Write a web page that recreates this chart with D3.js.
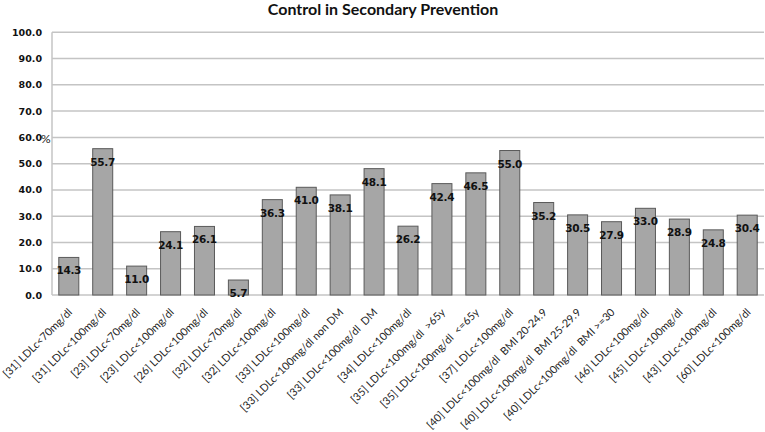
<!DOCTYPE html>
<html><head><meta charset="utf-8">
<script src="https://cdn.jsdelivr.net/npm/d3@7"></script>
<style>body{margin:0;background:#fff}svg{display:block}text{white-space:pre}</style>
</head><body>
<svg id="c" width="765" height="432"></svg>
<script>
const categories = [
 "[31] LDLc<70mg/dl","[31] LDLc<100mg/dl","[23] LDLc<70mg/dl","[23] LDLc<100mg/dl",
 "[26] LDLc<100mg/dl","[32] LDLc<70mg/dl","[32] LDLc<100mg/dl","[33] LDLc<100mg/dl",
 "[33] LDLc<100mg/dl non DM","[33] LDLc<100mg/dl  DM","[34] LDLc<100mg/dl",
 "[35] LDLc<100mg/dl  >65y","[35] LDLc<100mg/dl  <=65y","[37] LDLc<100mg/dl",
 "[40] LDLc<100mg/dl  BMI 20-24.9","[40] LDLc<100mg/dl  BMI 25-29.9","[40] LDLc<100mg/dl  BMI >=30",
 "[46] LDLc<100mg/dl","[45] LDLc<100mg/dl","[43] LDLc<100mg/dl","[60] LDLc<100mg/dl"];
const values = [14.3,55.7,11.0,24.1,26.1,5.7,36.3,41.0,38.1,48.1,26.2,42.4,46.5,55.0,35.2,30.5,27.9,33.0,28.9,24.8,30.4];
const yTicks = [0,10,20,30,40,50,60,70,80,90,100];
const title = "Control in Secondary Prevention";
const yTitle = "%";

const svg = d3.select("#c");
const m = {l:52, r:764, t:32.3, b:295};
const x = d3.scaleBand().domain(categories).range([m.l, m.r]).paddingInner(0.41).paddingOuter(0.2);
const y = d3.scaleLinear().domain([0,100]).range([m.b, m.t]);

// gridlines
svg.append("g").selectAll("line").data(yTicks).join("line")
  .attr("x1", m.l).attr("x2", m.r).attr("y1", d=>y(d)).attr("y2", d=>y(d))
  .attr("stroke", "#c4c4c4").attr("stroke-width", 1.5);
svg.append("line").attr("x1", m.l).attr("x2", m.l).attr("y1", y(100)).attr("y2", y(0))
  .attr("stroke", "#c4c4c4").attr("stroke-width", 1.5);

// y axis labels
const yAxis = d3.axisLeft(y).tickValues(yTicks).tickFormat(d3.format(".1f")).tickSize(0).tickPadding(10);
const ga = svg.append("g").attr("transform", `translate(${m.l},0)`).call(yAxis);
ga.select(".domain").remove();
ga.selectAll("text").attr("font-family","DejaVu Sans").attr("font-weight","bold").attr("font-size",9.5).attr("fill","#111");

svg.append("text").attr("x", 41).attr("y", y(60)+6).attr("font-family","Lato").attr("font-size",12).attr("fill","#222").text(yTitle);

// bars
svg.append("g").selectAll("rect").data(values).join("rect")
  .attr("x", (d,i)=>x(categories[i])).attr("width", x.bandwidth())
  .attr("y", d=>y(d)).attr("height", d=>y(0)-y(d))
  .attr("fill", "#a6a6a6").attr("stroke", "#5a5a5a").attr("stroke-width", 1);

// value labels
svg.append("g").selectAll("text").data(values).join("text")
  .attr("x", (d,i)=>x(categories[i])+x.bandwidth()/2).attr("y", d=>y(d)+17)
  .attr("text-anchor","middle").attr("font-family","DejaVu Sans").attr("font-weight","bold")
  .attr("font-size",10.5).attr("letter-spacing","-0.3").attr("fill","#111")
  .text(d=>d3.format(".1f")(d));

// x labels
const xAxis = d3.axisBottom(x).tickSize(0).tickPadding(0);
const gx = svg.append("g").attr("transform", `translate(0,${m.b})`).call(xAxis);
gx.select(".domain").remove();
gx.selectAll("text")
  .attr("font-family","Lato").attr("font-size",10.8).attr("fill","#222")
  .attr("text-anchor","end").attr("dy",0).attr("xml:space","preserve")
  .style("white-space","pre")
  .attr("transform","translate(4,18) rotate(-45)");

// title
svg.append("text").attr("x", 383).attr("y", 15).attr("text-anchor","middle")
  .attr("font-family","Lato").attr("font-weight","bold").attr("font-size",16).attr("fill","#111").text(title);
</script>
</body></html>
